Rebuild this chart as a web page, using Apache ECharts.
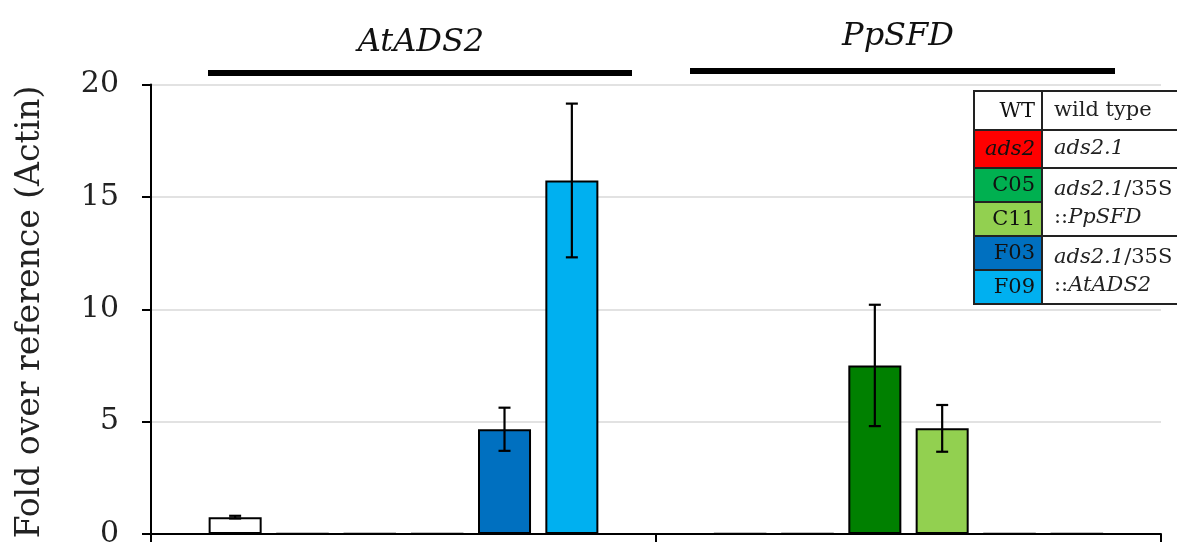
<!DOCTYPE html>
<html>
<head>
<meta charset="utf-8">
<script src="https://cdn.jsdelivr.net/npm/echarts@6/dist/echarts.min.js"></script>
<style>html,body{margin:0;padding:0;background:#fff;}#c{width:1177px;height:542px;}</style>
</head>
<body>
<div id="c"></div>
<script>
// ---- data ----
var groups = ['AtADS2', 'PpSFD'];
var lines = ['WT', 'ads2', 'C05', 'C11', 'F03', 'F09'];
var lineColors = ['#FFFFFF', '#FF0000', '#008000', '#92D050', '#0070C0', '#00B0F0'];
var legendColors = ['#FFFFFF', '#FF0000', '#00B050', '#92D050', '#0070C0', '#00B0F0'];
var valWT  = [0.75, 0.02];
var valADS2 = [0.02, 0.02];
var valC05 = [0.02, 7.5];
var valC11 = [0.02, 4.7];
var valF03 = [4.66, 0.02];
var valF09 = [15.73, 0.02];
var errWT  = [0.06, 0];
var errADS2 = [0, 0];
var errC05 = [0, 2.7];
var errC11 = [0, 1.04];
var errF03 = [0.96, 0];
var errF09 = [3.42, 0];
var yTicks = [0, 5, 10, 15, 20];

var values = [valWT, valADS2, valC05, valC11, valF03, valF09];
var errors = [errWT, errADS2, errC05, errC11, errF03, errF09];

var BAR_W = 0.105;   // fraction of category band
var GAP = 0.27;      // fraction of bar width
var FONT = '"DejaVu Serif", serif';

var series = [];
lines.forEach(function (name, i) {
  series.push({
    name: name,
    type: 'bar',
    data: values[i],
    barWidth: (BAR_W * 100) + '%',
    barGap: (GAP * 100) + '%',
    itemStyle: { color: lineColors[i], borderColor: '#000', borderWidth: 2 },
    z: 2,
    silent: true
  });
});

var errData = [];
lines.forEach(function (name, s) {
  groups.forEach(function (g, c) {
    if (errors[s][c] > 0) errData.push([c, s, values[s][c], errors[s][c]]);
  });
});

series.push({
  type: 'custom',
  z: 5,
  silent: true,
  data: errData,
  encode: { x: 0, y: 2 },
  renderItem: function (params, api) {
    var c = api.value(0), s = api.value(1), v = api.value(2), e = api.value(3);
    var center = api.coord([c, 0])[0];
    var band = api.size([1, 0])[0];
    var step = band * BAR_W * (1 + GAP);
    var x = center + (s - 2.5) * step;
    var yTop = api.coord([c, v + e])[1];
    var yBot = api.coord([c, v - e])[1];
    var cap = 6;
    var st = { stroke: '#000', lineWidth: 2.2 };
    return {
      type: 'group',
      children: [
        { type: 'line', shape: { x1: x, y1: yTop, x2: x, y2: yBot }, style: st },
        { type: 'line', shape: { x1: x - cap, y1: yTop, x2: x + cap, y2: yTop }, style: st },
        { type: 'line', shape: { x1: x - cap, y1: yBot, x2: x + cap, y2: yBot }, style: st }
      ]
    };
  }
});

// legend table graphic
var TL = 974, TM = 1042, TR = 1182;
var rowB = [91, 130, 168, 202, 236, 270, 304];
var graphics = [];
lines.forEach(function (name, i) {
  graphics.push({
    type: 'rect', shape: { x: TL, y: rowB[i], width: TM - TL, height: rowB[i + 1] - rowB[i] },
    style: { fill: legendColors[i], stroke: '#222', lineWidth: 2 }, z: 10
  });
  graphics.push({
    type: 'text', x: TM - 7, y: (rowB[i] + rowB[i + 1]) / 2 + 1, z: 11,
    style: { text: name, font: (i === 1 ? 'italic ' : '') + '21px ' + FONT, fill: '#111', align: 'right', verticalAlign: 'middle' }
  });
});
var rightRows = [[0, 1], [1, 2], [2, 4], [4, 6]];
rightRows.forEach(function (r) {
  graphics.push({
    type: 'rect', shape: { x: TM, y: rowB[r[0]], width: TR - TM, height: rowB[r[1]] - rowB[r[0]] },
    style: { fill: '#fff', stroke: '#222', lineWidth: 2 }, z: 10
  });
});
var rich = {
  n: { font: '21px ' + FONT, fill: '#222' },
  i: { font: 'italic 21px ' + FONT, fill: '#222' }
};
var rightTexts = [
  ['{n|wild type}', 111],
  ['{i|ads2.1}', 149],
  ['{i|ads2.1}{n|/35S}', 190],
  ['{n|::}{i|PpSFD}', 218],
  ['{i|ads2.1}{n|/35S}', 258],
  ['{n|::}{i|AtADS2}', 286]
];
rightTexts.forEach(function (t) {
  graphics.push({
    type: 'text', x: TM + 12, y: t[1], z: 11,
    style: { text: t[0], rich: rich, align: 'left', verticalAlign: 'middle' }
  });
});
graphics.push({ type: 'line', shape: { x1: 208, y1: 73, x2: 632, y2: 73 }, style: { stroke: '#000', lineWidth: 6 }, z: 10 });
graphics.push({ type: 'line', shape: { x1: 690, y1: 71, x2: 1115, y2: 71 }, style: { stroke: '#000', lineWidth: 6 }, z: 10 });
graphics.push({ type: 'text', x: 421, y: 59, z: 10, style: { text: groups[0], font: 'italic 32px ' + FONT, fill: '#111', align: 'center', verticalAlign: 'bottom' } });
graphics.push({ type: 'text', x: 898, y: 53, z: 10, style: { text: groups[1], font: 'italic 32px ' + FONT, fill: '#111', align: 'center', verticalAlign: 'bottom' } });
graphics.push({ type: 'text', x: 30, y: 312, rotation: Math.PI / 2, z: 10,
  style: { text: 'Fold over reference (Actin)', font: '33px ' + FONT, fill: '#222', align: 'center', verticalAlign: 'middle' } });

var chart = echarts.init(document.getElementById('c'), null, { renderer: 'canvas' });
chart.setOption({
  animation: false,
  backgroundColor: '#fff',
  grid: { left: 151, right: 16, top: 84.5, bottom: 8, containLabel: false, outerBoundsMode: 'none' },
  xAxis: {
    type: 'category',
    data: groups,
    axisLine: { lineStyle: { color: '#000', width: 2 } },
    axisTick: { show: true, length: 9, lineStyle: { color: '#000', width: 2 } },
    axisLabel: { show: false },
    splitLine: { show: false }
  },
  yAxis: {
    type: 'value',
    min: yTicks[0],
    max: yTicks[yTicks.length - 1],
    interval: yTicks[1] - yTicks[0],
    axisLine: { show: true, lineStyle: { color: '#000', width: 2 } },
    axisTick: { show: true, length: 9, lineStyle: { color: '#000', width: 2 } },
    axisLabel: { margin: 32, color: '#222', fontSize: 30, fontFamily: FONT },
    splitLine: { show: true, lineStyle: { color: '#d9d9d9', width: 1.5 } }
  },
  series: series,
  graphic: graphics
});
</script>
</body>
</html>
